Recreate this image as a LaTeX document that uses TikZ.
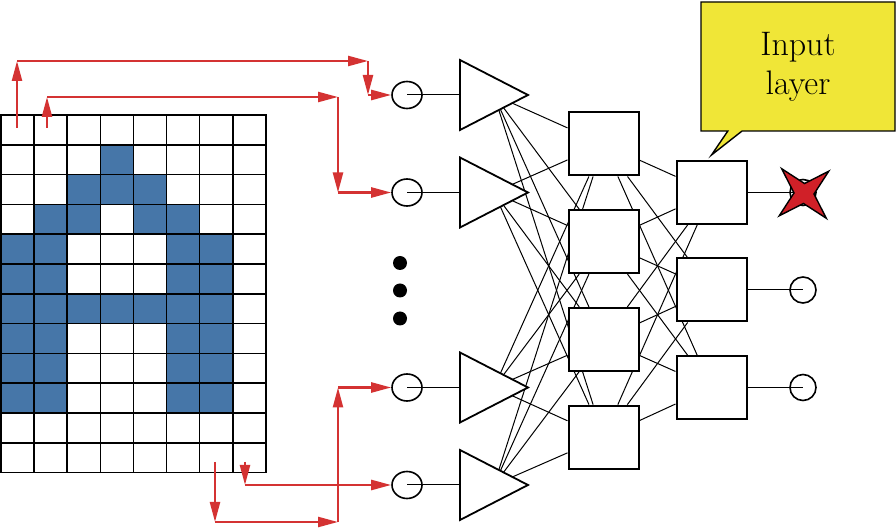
\documentclass[tikz,border=0pt]{standalone}
\usepackage{amsmath, amssymb}
\usepackage{tikz}
\usetikzlibrary{shapes.geometric,shapes.callouts,arrows.meta,calc,backgrounds}

\definecolor{cellblue}{RGB}{70,118,168}
\definecolor{feedred}{RGB}{212,50,50}
\definecolor{starred}{RGB}{208,32,40}
\definecolor{noteyellow}{RGB}{240,230,55}

\tikzset{
  gridline/.style={line width=0.8pt, line cap=rect},
  feed/.style={draw=feedred, line width=1.2pt, -{Triangle[length=10pt,width=5pt]}},
  link/.style={line width=0.5pt},
  incirc/.style={ellipse, draw, line width=0.8pt, minimum width=15pt, minimum height=13.5pt, inner sep=0},
  outcirc/.style={circle, draw, line width=0.8pt, minimum size=13pt, inner sep=0},
  tri/.style={isosceles triangle, isosceles triangle stretches, draw, fill=white, line width=0.9pt,
    minimum width=35pt, minimum height=34pt, inner sep=0, outer sep=0},
  unit/.style={rectangle, draw, fill=white, line width=1pt, minimum width=35pt, minimum height=31.5pt},
  dot/.style={circle, fill, inner sep=0, minimum size=7pt},
  reject/.style={star, star points=4, star point ratio=0.3, minimum size=10pt, inner sep=0,
    draw, fill=starred, line width=0.7pt},
  note/.style={rectangle callout, draw, fill=noteyellow, line width=0.7pt, minimum width=97pt,
    minimum height=64.5pt, inner sep=0, align=center, font=\fontsize{17}{19.5}\selectfont}
}

\begin{document}
\begin{tikzpicture}[x=0.5pt,y=-0.5pt]
\useasboundingbox (0,0) rectangle (896,529);

\begin{scope}[shift={(1,115)}, x=16.55pt, y=-14.9pt]
\foreach \r/\cs in {1/{3},2/{2,3,4},3/{1,2,4,5},4/{0,1,5,6},5/{0,1,5,6},6/{0,1,...,6},7/{0,1,5,6},8/{0,1,5,6},9/{0,1,5,6}} {
  \foreach \c in \cs
    \fill[cellblue] (\c,\r) rectangle ++(1,1);
}
\foreach \c in {0,...,8}
  \draw[gridline] (\c,0) -- (\c,12);
\foreach \r in {0,...,12}
  \draw[gridline] (0,\r) -- (8,\r);
\end{scope}

\foreach \k/\y in {1/95,2/192.5,3/387.5,4/485} {
  \node[incirc] (c\k) at (407,\y) {};
  \node[tri, anchor=apex] (T\k) at (528,\y) {};
  \draw[link] (c\k.center) -- (T\k);
}
\foreach \j/\y in {1/144,2/241.7,3/339.4,4/437.1}
  \node[unit] (H\j) at (603.5,\y) {};
\foreach \k/\y in {1/192.5,2/290,3/387.5} {
  \node[unit] (O\k) at (711.5,\y) {};
  \node[outcirc] (o\k) at (803,\y) {};
  \draw[link] (O\k) -- (o\k.center);
}
\foreach \y [count=\d] in {263,290.5,318.5}
  \node[dot] (dot\d) at (400,\y) {};

\begin{scope}[on background layer]
\foreach \i in {1,...,4}
  \foreach \j in {1,...,4}
    \draw[link] ($(T\i.apex)!.5!(T\i.lower side)$) -- (H\j);
\foreach \j in {1,...,4}
  \foreach \k in {1,2,3}
    \draw[link] (H\j) -- (O\k);
\end{scope}

% pixel taps
\coordinate (a0) at (17,128);  \coordinate (a1) at (17,61);
\coordinate (a2) at (368,61);  \coordinate (a3) at (368,95);
\coordinate (b0) at (47,128);  \coordinate (b1) at (47,97);
\coordinate (b2) at (338,97);  \coordinate (b3) at (338,192.5);
\coordinate (d0) at (215,462); \coordinate (d1) at (215,522);
\coordinate (d2) at (338,522); \coordinate (d3) at (338,387.5);
\coordinate (e0) at (245,462); \coordinate (e1) at (245,485);
\foreach \p/\q in {a0/a1,a1/a2,a2/a3,a3/c1,b0/b1,b1/b2,b2/b3,b3/c2,d0/d1,d1/d2,d2/d3,d3/c3,e0/e1,e1/c4}
  \draw[feed] (\p) -- (\q);

\node[reject, rotate=-3] (miss) at ($(o1)+(1,1)$) {};
\node[note, callout absolute pointer={($(O1.north)+(0,-5)$)}] (label) at (798,66.5) {Input\\layer};

\end{tikzpicture}
\end{document}
